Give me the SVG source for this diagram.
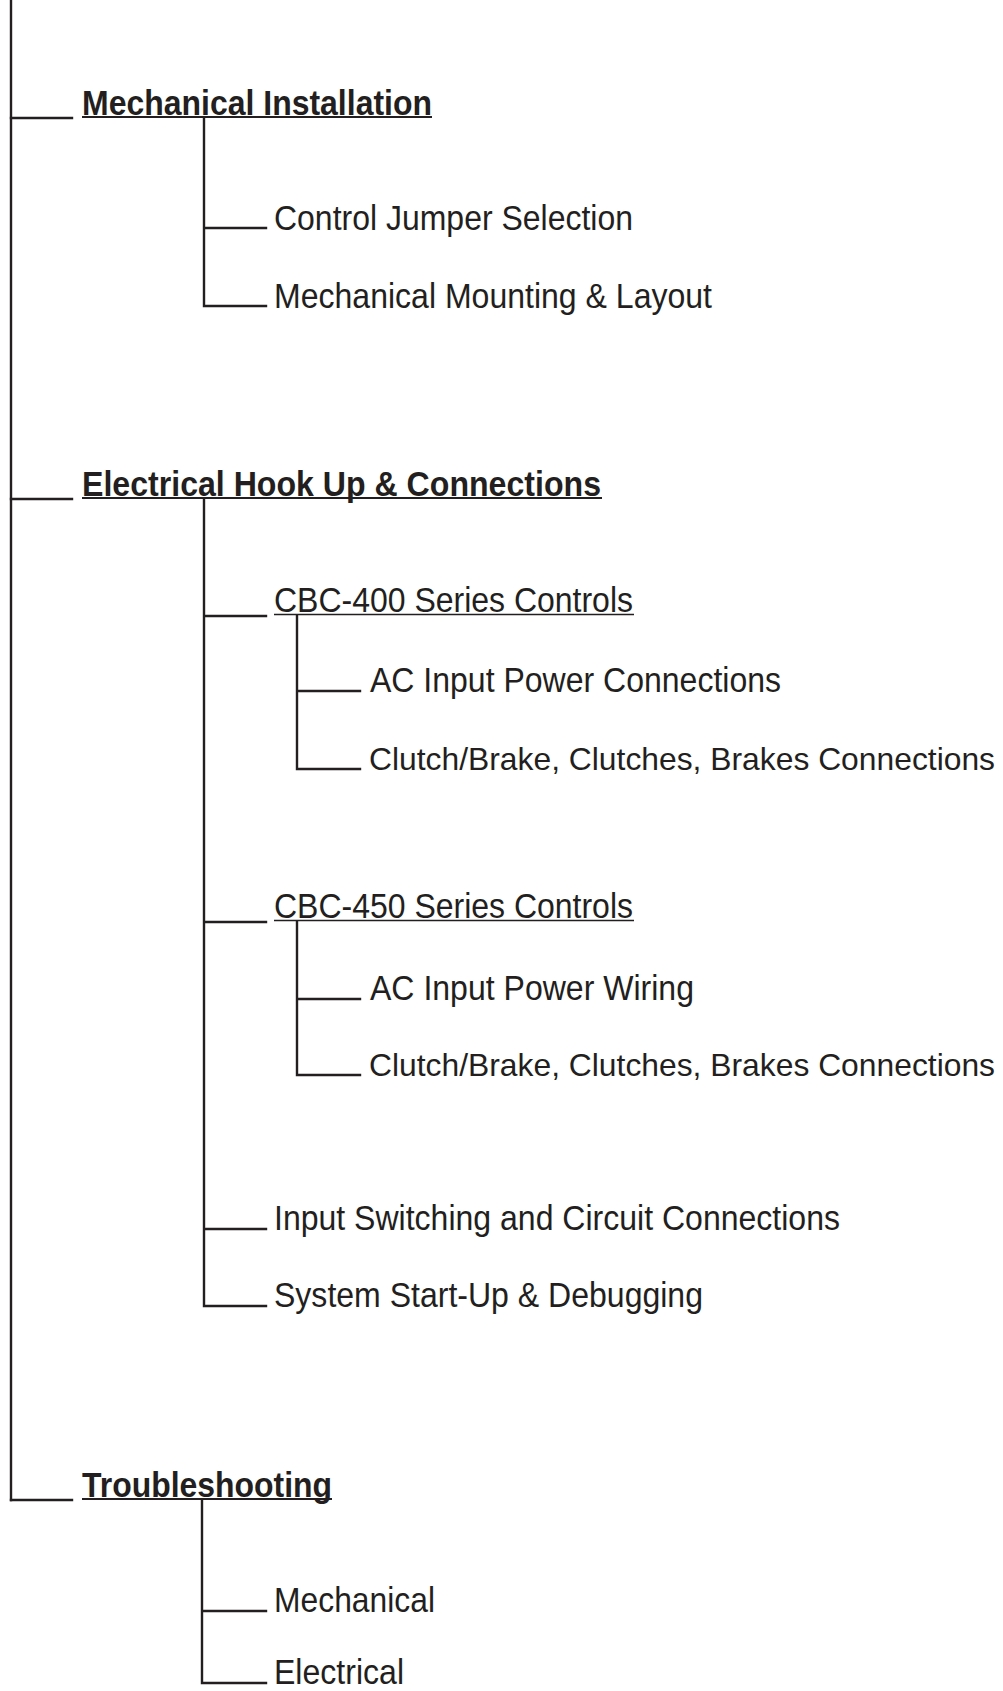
<svg xmlns="http://www.w3.org/2000/svg" width="1003" height="1691" viewBox="0 0 1003 1691">
<style>
.ln{stroke:#231f20;stroke-width:2.4;fill:none;stroke-linecap:square}
.ul{stroke:#231f20;stroke-width:2;fill:none}
.ulr{stroke:#231f20;stroke-width:1.6;fill:none}
.h{font-family:"Liberation Sans",Arial,Helvetica,sans-serif;font-size:35px;font-weight:bold;fill:#231f20}
.t{font-family:"Liberation Sans",Arial,Helvetica,sans-serif;font-size:35px;fill:#231f20}
.tw{font-size:32px}
</style>
<rect width="1003" height="1691" fill="#ffffff"/>
<g id="connectors">
<path class="ln" d="M11,0 V1500"/>
<path class="ln" d="M11,118 H72"/>
<path class="ln" d="M11,499 H72"/>
<path class="ln" d="M11,1500 H72"/>
<path class="ln" d="M204,118 V306 M204,228 H266 M204,306 H266"/>
<path class="ln" d="M204,499 V1306 M204,616 H266 M204,922 H266 M204,1229 H266 M204,1306 H266"/>
<path class="ln" d="M297,616 V769 M297,691 H360 M297,769 H360"/>
<path class="ln" d="M297,922 V1075 M297,999 H360 M297,1075 H360"/>
<path class="ln" d="M202,1500 V1683 M202,1611 H266 M202,1683 H266"/>
</g>
<g id="n-mech-install">
<text class="h" x="82" y="115" textLength="350" lengthAdjust="spacingAndGlyphs">Mechanical Installation</text>
<path class="ul" d="M82,117 H432"/>
</g>
<g id="n-control-jumper"><text class="t" x="274" y="230" textLength="359" lengthAdjust="spacingAndGlyphs">Control Jumper Selection</text></g>
<g id="n-mech-mounting"><text class="t" x="274" y="308" textLength="438" lengthAdjust="spacingAndGlyphs">Mechanical Mounting &amp; Layout</text></g>
<g id="n-electrical-hookup">
<text class="h" x="82" y="496" textLength="519" lengthAdjust="spacingAndGlyphs">Electrical Hook Up &amp; Connections</text>
<path class="ul" d="M82,498 H602"/>
</g>
<g id="n-cbc400">
<text class="t" x="274" y="612" textLength="359" lengthAdjust="spacingAndGlyphs">CBC-400 Series Controls</text>
<path class="ulr" d="M274,614.5 H634"/>
</g>
<g id="n-ac-conn"><text class="t" x="370" y="692" textLength="411" lengthAdjust="spacingAndGlyphs">AC Input Power Connections</text></g>
<g id="n-clutch1"><text class="t tw" x="369" y="769.5" textLength="626" lengthAdjust="spacingAndGlyphs">Clutch/Brake, Clutches, Brakes Connections</text></g>
<g id="n-cbc450">
<text class="t" x="274" y="918" textLength="359" lengthAdjust="spacingAndGlyphs">CBC-450 Series Controls</text>
<path class="ulr" d="M274,920.5 H634"/>
</g>
<g id="n-ac-wiring"><text class="t" x="370" y="999.5" textLength="324" lengthAdjust="spacingAndGlyphs">AC Input Power Wiring</text></g>
<g id="n-clutch2"><text class="t tw" x="369" y="1075.5" textLength="626" lengthAdjust="spacingAndGlyphs">Clutch/Brake, Clutches, Brakes Connections</text></g>
<g id="n-input-switching"><text class="t" x="274" y="1230" textLength="566" lengthAdjust="spacingAndGlyphs">Input Switching and Circuit Connections</text></g>
<g id="n-startup"><text class="t" x="274" y="1307" textLength="429" lengthAdjust="spacingAndGlyphs">System Start-Up &amp; Debugging</text></g>
<g id="n-troubleshooting">
<text class="h" x="82" y="1497" textLength="250" lengthAdjust="spacingAndGlyphs">Troubleshooting</text>
<path class="ul" d="M82,1499 H332"/>
</g>
<g id="n-ts-mechanical"><text class="t" x="274" y="1612" textLength="161" lengthAdjust="spacingAndGlyphs">Mechanical</text></g>
<g id="n-ts-electrical"><text class="t" x="274" y="1684" textLength="130" lengthAdjust="spacingAndGlyphs">Electrical</text></g>
</svg>
